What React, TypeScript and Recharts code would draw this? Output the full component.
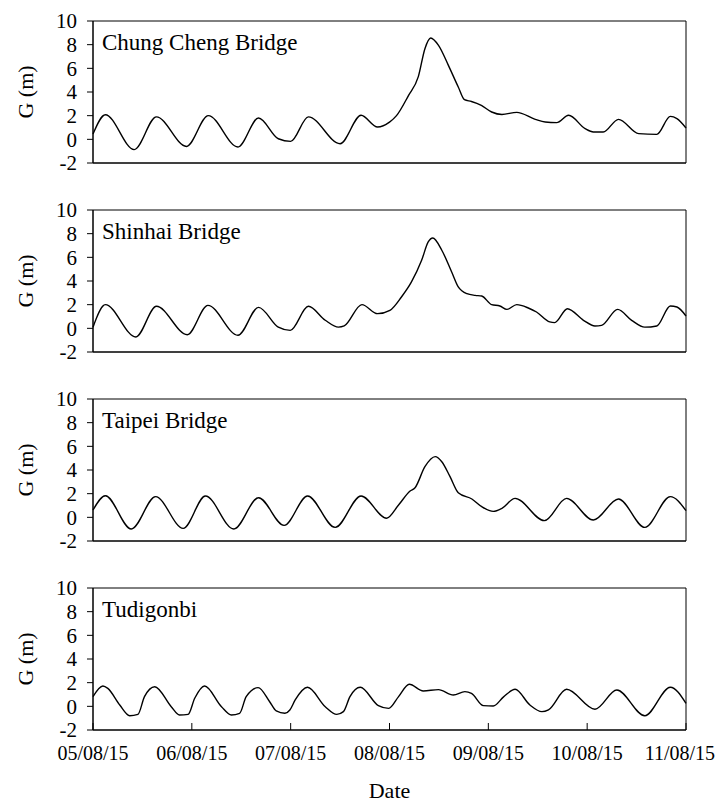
import { LineChart, Line, XAxis, YAxis, ReferenceArea } from 'recharts'

const FONT = 'Liberation Serif, Times New Roman, serif'

const dayTicks = [0, 24, 48, 72, 96, 120, 144]
const dateLabels = ['05/08/15', '06/08/15', '07/08/15', '08/08/15', '09/08/15', '10/08/15', '11/08/15']
const levelTicks = [-2, 0, 2, 4, 6, 8, 10]

// hours since 05/08/15 00:00 and water level G (m)
const chungChengHours = [0, 3, 10, 15.4, 22.7, 28, 35.2, 40.2, 45, 48, 52.3, 60, 65.1, 69.1, 72, 73.7, 76.6, 79, 80.6, 82, 83.9, 86.3, 88.7, 90.2, 91.9, 94.3, 96.8, 99.3, 102.9, 107.4, 109.8, 112.6, 115.5, 119.5, 121.5, 123.9, 127.6, 132.5, 136.9, 140.2, 141.8, 144]
const chungChengLevels = [0.45, 2.08, -0.87, 1.9, -0.6, 2.0, -0.65, 1.8, 0.05, -0.17, 1.9, -0.37, 2.03, 1.04, 1.45, 2.0, 3.7, 5.3, 7.66, 8.56, 7.94, 6.25, 4.42, 3.35, 3.2, 2.87, 2.31, 2.1, 2.28, 1.69, 1.46, 1.41, 2.03, 0.9, 0.62, 0.62, 1.69, 0.48, 0.42, 1.94, 1.75, 0.96]

const shinhaiHours = [0, 3, 10.4, 15.4, 22.9, 27.9, 35.2, 40.2, 45, 47.9, 52.3, 56.4, 59.6, 61, 65.3, 69.1, 72.1, 74.9, 77.3, 79.8, 81.4, 82.5, 84.7, 87.1, 88.7, 90.8, 92.8, 94.4, 96.8, 98.8, 100.5, 102.9, 105.7, 107.7, 110.9, 112.1, 115.2, 119.1, 121.9, 123.5, 127.4, 130.8, 134, 136.9, 140.2, 141.8, 144]
const shinhaiLevels = [0.1, 2.0, -0.73, 1.86, -0.54, 1.94, -0.59, 1.77, 0.1, -0.17, 1.86, 0.68, 0.1, 0.2, 2.0, 1.24, 1.52, 2.65, 3.9, 5.75, 7.3, 7.63, 6.6, 4.76, 3.5, 2.93, 2.79, 2.73, 2.0, 1.89, 1.6, 2.0, 1.72, 1.38, 0.54, 0.48, 1.66, 0.68, 0.2, 0.25, 1.6, 0.68, 0.1, 0.2, 1.89, 1.8, 1.04]

const taipeiHours = [0, 3, 9.3, 15.2, 21.9, 27.3, 34.2, 40.2, 46.4, 52.1, 58.8, 65.1, 71.3, 74.2, 77, 78.2, 80.6, 83.1, 84.7, 86.7, 88.7, 92, 94.4, 97.2, 99.3, 102.5, 109.6, 115, 121.5, 127.6, 134, 140.2, 144]
const taipeiLevels = [0.62, 1.83, -0.99, 1.75, -0.93, 1.8, -0.99, 1.66, -0.68, 1.8, -0.85, 1.8, -0.08, 1.04, 2.22, 2.5, 4.28, 5.13, 4.7, 3.44, 2.08, 1.55, 0.9, 0.5, 0.76, 1.6, -0.28, 1.6, -0.23, 1.55, -0.85, 1.75, 0.56]

const tudigonbiHours = [0, 2.4, 3.6, 6.5, 8.9, 10.9, 12.5, 15, 19, 21, 23.1, 24.7, 27.1, 31.2, 33.6, 35.6, 37.2, 40.1, 42.9, 44.5, 46.6, 47.8, 49.1, 52.1, 56.4, 59.2, 60.8, 62.4, 64.9, 69.3, 71.8, 74.2, 76.8, 80.2, 83.9, 87.5, 90.3, 91.9, 94.8, 97.2, 99.7, 102.5, 106.1, 109, 110.6, 115, 121.9, 127.2, 134, 140.2, 144]
const tudigonbiLevels = [0.82, 1.72, 1.52, 0.11, -0.79, -0.68, 0.82, 1.66, -0.03, -0.73, -0.68, 0.68, 1.72, -0.03, -0.73, -0.59, 0.82, 1.58, 0.39, -0.39, -0.59, -0.31, 0.54, 1.61, -0.03, -0.68, -0.45, 0.82, 1.61, 0.06, -0.17, 0.82, 1.86, 1.3, 1.41, 0.96, 1.24, 1.1, 0.06, 0.03, 0.8, 1.44, 0.11, -0.45, -0.3, 1.44, -0.25, 1.38, -0.79, 1.61, 0.25]

const textStyle = { fontFamily: FONT }

// date tick; the last one is pulled in so it stays on the page
const DateTick = (props: any) => {
  const { x, y, index } = props
  const isLast = index === dayTicks.length - 1
  return (
    <text
      x={isLast ? x + 29 : x}
      y={y}
      dy="0.71em"
      textAnchor={isLast ? 'end' : 'middle'}
      fontSize={20}
      style={textStyle}
      fill="#000"
    >
      {dateLabels[index]}
    </text>
  )
}

function Panel({
  name,
  hours,
  levels,
  last,
}: {
  name: string
  hours: number[]
  levels: number[]
  last?: boolean
}) {
  const data = hours.map((h, i) => ({ h, g: levels[i] }))

  return (
    <LineChart
      width={715}
      height={last ? 232 : 189}
      data={data}
      margin={{ top: 13, right: 37, bottom: 0, left: 0 }}
      style={{ fontFamily: FONT }}
    >
      <XAxis
        dataKey="h"
        type="number"
        domain={[0, 144]}
        ticks={dayTicks}
        interval={0}
        height={last ? 77 : 34}
        tickSize={-7}
        tickMargin={23}
        axisLine={{ stroke: '#000' }}
        tickLine={{ stroke: '#000' }}
        tick={last ? <DateTick /> : false}
        label={
          last
            ? {
                content: (props: any) => {
                  const vb = props.viewBox
                  return (
                    <text
                      x={vb.x + vb.width / 2}
                      y={vb.y + 68}
                      textAnchor="middle"
                      fontSize={22}
                      style={textStyle}
                      fill="#000"
                    >
                      Date
                    </text>
                  )
                },
              }
            : undefined
        }
      />
      <YAxis
        type="number"
        domain={[-2, 10]}
        ticks={levelTicks}
        interval={0}
        width={85}
        tickSize={6}
        tickMargin={10}
        axisLine={{ stroke: '#000' }}
        tickLine={{ stroke: '#000' }}
        tick={{ fill: '#000', fontSize: 21, fontFamily: FONT, style: textStyle }}
        label={{
          content: (props: any) => {
            const vb = props.viewBox
            const cx = vb.x + 25
            const cy = vb.y + vb.height / 2
            return (
              <text
                x={cx}
                y={cy}
                transform={`rotate(-90, ${cx}, ${cy})`}
                textAnchor="middle"
                fontSize={22}
                style={textStyle}
                fill="#000"
              >
                G (m)
              </text>
            )
          },
        }}
      />
      <ReferenceArea
        x1={0}
        x2={144}
        y1={-2}
        y2={10}
        fill="none"
        fillOpacity={0}
        stroke="#000"
        strokeWidth={1}
        ifOverflow="visible"
        label={{
          content: (props: any) => {
            const vb = props.viewBox
            return (
              <text x={vb.x + 9} y={vb.y + 29} fontSize={23} style={textStyle} fill="#000">
                {name}
              </text>
            )
          },
        }}
      />
      <Line
        type="monotone"
        dataKey="g"
        stroke="#000"
        strokeWidth={1.4}
        dot={false}
        isAnimationActive={false}
      />
    </LineChart>
  )
}

export default function App() {
  return (
    <div style={{ width: 715, height: 799, marginBottom: -8 }}>
      <Panel name="Chung Cheng Bridge" hours={chungChengHours} levels={chungChengLevels} />
      <Panel name="Shinhai Bridge" hours={shinhaiHours} levels={shinhaiLevels} />
      <Panel name="Taipei Bridge" hours={taipeiHours} levels={taipeiLevels} />
      <Panel name="Tudigonbi" hours={tudigonbiHours} levels={tudigonbiLevels} last />
    </div>
  )
}
